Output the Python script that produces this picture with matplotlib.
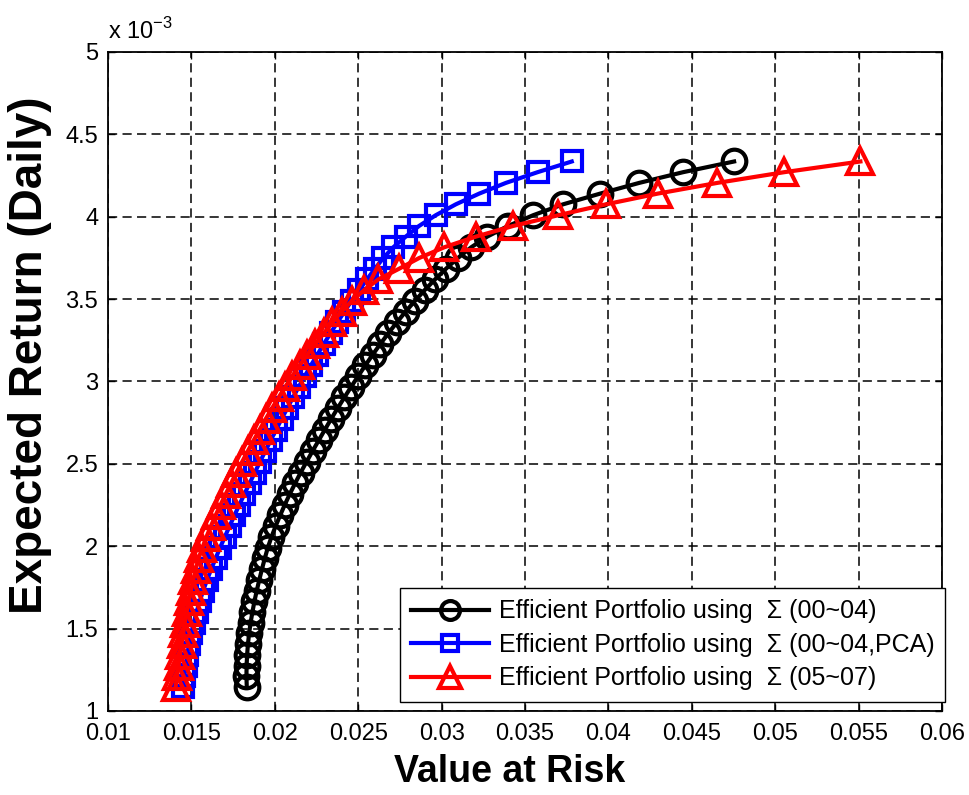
import matplotlib
matplotlib.use('Agg')
import matplotlib.pyplot as plt
from matplotlib.ticker import FormatStrFormatter

plt.rcParams['font.family'] = ['Liberation Sans', 'DejaVu Sans']
plt.rcParams['mathtext.fontset'] = 'custom'
plt.rcParams['mathtext.rm'] = 'Liberation Sans'

# expected daily return, in units of 1e-3 (shared by all three frontiers)
ret_e3 = [1.145, 1.210, 1.275, 1.340, 1.405, 1.471, 1.536, 1.601, 1.666, 1.731,
          1.796, 1.861, 1.926, 1.991, 2.056, 2.122, 2.187, 2.252, 2.317, 2.382,
          2.447, 2.512, 2.577, 2.642, 2.707, 2.773, 2.838, 2.903, 2.968, 3.033,
          3.098, 3.163, 3.228, 3.293, 3.358, 3.424, 3.489, 3.554, 3.619, 3.684,
          3.749, 3.814, 3.879, 3.944, 4.009, 4.075, 4.140, 4.205, 4.270, 4.335]

# value at risk for each portfolio
var_0004 = [0.01832, 0.01830, 0.01831, 0.01834, 0.01839, 0.01846, 0.01855, 0.01866, 0.01878, 0.01892,
            0.01907, 0.01923, 0.01940, 0.01958, 0.01980, 0.02005, 0.02032, 0.02060, 0.02090, 0.02122,
            0.02155, 0.02190, 0.02226, 0.02263, 0.02300, 0.02338, 0.02377, 0.02417, 0.02458, 0.02500,
            0.02543, 0.02587, 0.02633, 0.02681, 0.02731, 0.02784, 0.02840, 0.02898, 0.02960, 0.03026,
            0.03097, 0.03177, 0.03273, 0.03399, 0.03549, 0.03728, 0.03950, 0.04184, 0.04447, 0.04753]

var_pca = [0.01452, 0.01458, 0.01466, 0.01475, 0.01486, 0.01499, 0.01514, 0.01531, 0.01550, 0.01571,
           0.01594, 0.01619, 0.01645, 0.01672, 0.01700, 0.01729, 0.01758, 0.01788, 0.01818, 0.01849,
           0.01880, 0.01911, 0.01943, 0.01975, 0.02008, 0.02041, 0.02075, 0.02109, 0.02144, 0.02180,
           0.02217, 0.02255, 0.02294, 0.02334, 0.02375, 0.02417, 0.02460, 0.02505, 0.02552, 0.02600,
           0.02650, 0.02710, 0.02785, 0.02865, 0.02965, 0.03085, 0.03225, 0.03385, 0.03575, 0.03780]

var_0507 = [0.01405, 0.01414, 0.01423, 0.01432, 0.01441, 0.01451, 0.01461, 0.01472, 0.01484, 0.01497,
            0.01511, 0.01526, 0.01543, 0.01566, 0.01590, 0.01617, 0.01645, 0.01675, 0.01706, 0.01738,
            0.01770, 0.01804, 0.01838, 0.01873, 0.01909, 0.01946, 0.01984, 0.02023, 0.02063, 0.02105,
            0.02149, 0.02195, 0.02243, 0.02294, 0.02345, 0.02400, 0.02462, 0.02535, 0.02620, 0.02745,
            0.02865, 0.03015, 0.03205, 0.03430, 0.03700, 0.03985, 0.04295, 0.04652, 0.05053, 0.05510]

labels = ['Efficient Portfolio using  \u03a3 (00~04)',
          'Efficient Portfolio using  \u03a3 (00~04,PCA)',
          'Efficient Portfolio using  \u03a3 (05~07)']

x_ticks = [0.01, 0.015, 0.02, 0.025, 0.03, 0.035, 0.04, 0.045, 0.05, 0.055, 0.06]
y_ticks = [1, 1.5, 2, 2.5, 3, 3.5, 4, 4.5, 5]

fig = plt.figure(figsize=(9.7, 7.95), dpi=100)
ax = fig.add_axes([0.1113, 0.1057, 0.86, 0.829])

ax.plot(var_0004, ret_e3, 'k-o', lw=3, ms=17, mew=3, mfc='none', label=labels[0])
ax.plot(var_pca, ret_e3, 'b-s', lw=3, ms=14, mew=3, mfc='none', label=labels[1])
ax.plot(var_0507, ret_e3, 'r-^', lw=3, ms=19, mew=3, mfc='none', label=labels[2])

ax.set_xlim(0.01, 0.06)
ax.set_ylim(1, 5)
ax.set_xticks(x_ticks)
ax.set_yticks(y_ticks)
ax.xaxis.set_major_formatter(FormatStrFormatter('%g'))
ax.yaxis.set_major_formatter(FormatStrFormatter('%g'))
ax.tick_params(direction='in', top=True, right=True, labelsize=17, length=5, width=1)
ax.tick_params(axis='x', pad=9)
ax.tick_params(axis='y', pad=7)
for s in ax.spines.values():
    s.set_linewidth(1.3)

ax.grid(True, color='k', linestyle=(0, (6, 3.5)), linewidth=1.1)
ax.set_axisbelow(True)

ax.set_xlabel('Value at Risk', fontsize=27, fontweight='bold')
ax.xaxis.set_label_coords(0.481, -0.065, transform=ax.transAxes)
ax.set_ylabel('Expected Return (Daily)', fontsize=33, fontweight='bold')
ax.yaxis.set_label_coords(-0.067, 0.539, transform=ax.transAxes)
ax.text(0.0, 1.012, 'x 10$^{-3}$', transform=ax.transAxes, fontsize=17, ha='left', va='bottom')

leg = ax.legend(loc='lower right', bbox_to_anchor=(1.004, 0.014), borderaxespad=0,
                fontsize=18, handlelength=3.1, markerscale=0.8, fancybox=False,
                framealpha=1, edgecolor='k', borderpad=0.45, labelspacing=0.38, handletextpad=0.4)
leg.get_frame().set_linewidth(1.0)

plt.savefig('out.png', dpi=100)
